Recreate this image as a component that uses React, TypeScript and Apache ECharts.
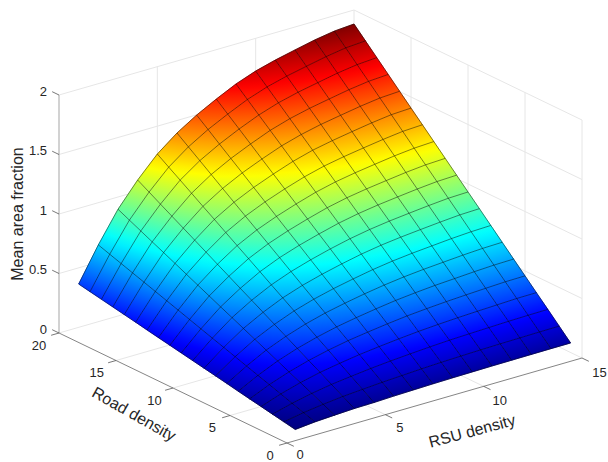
import React, { useEffect, useRef } from "react";
import * as echarts from "echarts";

const rsuTicks = [0, 5, 10, 15];
const roadTicks = [0, 5, 10, 15, 20];
const fractionTicks = [0, 0.5, 1, 1.5, 2];
const fractionTickLabels = ["0", "0.5", "1", "1.5", "2"];

// Mean area fraction, one list per RSU density (1..15), values for road density 1..20
const rsu1 = [.020,.038,.056,.074,.092,.110,.129,.147,.165,.183,.201,.219,.237,.255,.274,.292,.310,.328,.346,.364];
const rsu2 = [.036,.068,.100,.132,.164,.196,.228,.260,.292,.324,.356,.388,.421,.453,.485,.517,.549,.581,.613,.645];
const rsu3 = [.045,.090,.135,.180,.224,.269,.314,.359,.404,.449,.493,.538,.583,.628,.673,.718,.762,.807,.852,.897];
const rsu4 = [.053,.108,.163,.218,.272,.327,.382,.437,.492,.547,.601,.656,.711,.766,.821,.876,.930,.985,1.040,1.095];
const rsu5 = [.056,.120,.183,.247,.311,.374,.438,.502,.566,.629,.693,.757,.820,.884,.948,1.011,1.075,1.139,1.202,1.266];
const rsu6 = [.062,.132,.202,.272,.343,.413,.483,.553,.623,.693,.764,.834,.904,.974,1.044,1.114,1.185,1.255,1.325,1.395];
const rsu7 = [.066,.141,.217,.292,.367,.443,.518,.594,.669,.744,.820,.895,.970,1.046,1.121,1.197,1.272,1.347,1.423,1.498];
const rsu8 = [.070,.150,.229,.309,.389,.469,.549,.628,.708,.788,.867,.947,1.027,1.107,1.186,1.266,1.346,1.426,1.505,1.585];
const rsu9 = [.073,.157,.240,.324,.408,.492,.575,.659,.743,.826,.910,.994,1.078,1.161,1.245,1.329,1.413,1.496,1.580,1.664];
const rsu10 = [.075,.162,.249,.335,.422,.509,.596,.683,.770,.856,.943,1.030,1.117,1.204,1.291,1.377,1.464,1.551,1.638,1.725];
const rsu11 = [.077,.166,.255,.344,.433,.523,.612,.701,.790,.879,.968,1.057,1.146,1.235,1.324,1.414,1.503,1.592,1.681,1.770];
const rsu12 = [.078,.169,.260,.351,.442,.533,.624,.715,.806,.897,.988,1.079,1.170,1.261,1.352,1.443,1.534,1.625,1.716,1.807];
const rsu13 = [.079,.172,.265,.357,.450,.543,.636,.729,.821,.914,1.007,1.100,1.193,1.285,1.378,1.471,1.564,1.657,1.750,1.843];
const rsu14 = [.080,.174,.268,.363,.457,.551,.645,.739,.834,.928,1.022,1.116,1.210,1.305,1.399,1.493,1.587,1.681,1.776,1.870];
const rsu15 = [.080,.175,.270,.364,.459,.554,.649,.744,.839,.933,1.028,1.123,1.218,1.313,1.407,1.502,1.597,1.692,1.787,1.882];
const surfaceRows = [rsu1, rsu2, rsu3, rsu4, rsu5, rsu6, rsu7, rsu8, rsu9, rsu10, rsu11, rsu12, rsu13, rsu14, rsu15];

const FONT = "'Liberation Sans', Helvetica, Arial, sans-serif";

// orthographic view of the box (RSU 0..15, road 0..20, fraction 0..2) in chart units
function project(r: number, d: number, z: number): [number, number] {
  return [287 + (295 * r) / 15 - (228 * d) / 20, 443 - (85 * r) / 15 - (110 * d) / 20 - 119 * z];
}

function jet(t: number): string {
  const v = Math.max(0, Math.min(1, t));
  const ch = (c: number) => Math.round(255 * Math.max(0, Math.min(1, c)));
  const r = ch(Math.min(4 * v - 1.5, -4 * v + 4.5));
  const g = ch(Math.min(4 * v - 0.5, -4 * v + 3.5));
  const b = ch(Math.min(4 * v + 0.5, -4 * v + 2.5));
  return `rgb(${r},${g},${b})`;
}

const zMin = Math.min(...surfaceRows.map((row) => Math.min(...row)));
const zMax = Math.max(...surfaceRows.map((row) => Math.max(...row)));
const norm = (z: number) => (z - zMin) / (zMax - zMin);

function cellFill(pts: number[][], zs: number[]) {
  const ux = (pts[1][0] + pts[2][0] - pts[0][0] - pts[3][0]) / 2;
  const uy = (pts[1][1] + pts[2][1] - pts[0][1] - pts[3][1]) / 2;
  const vx = (pts[3][0] + pts[2][0] - pts[0][0] - pts[1][0]) / 2;
  const vy = (pts[3][1] + pts[2][1] - pts[0][1] - pts[1][1]) / 2;
  const zu = (zs[1] + zs[2] - zs[0] - zs[3]) / 2;
  const zv = (zs[3] + zs[2] - zs[0] - zs[1]) / 2;
  const det = ux * vy - uy * vx;
  const gx = (zu * vy - zv * uy) / det;
  const gy = (ux * zv - vx * zu) / det;
  const g2 = gx * gx + gy * gy;
  const cx = (pts[0][0] + pts[1][0] + pts[2][0] + pts[3][0]) / 4;
  const cy = (pts[0][1] + pts[1][1] + pts[2][1] + pts[3][1]) / 4;
  const zc = (zs[0] + zs[1] + zs[2] + zs[3]) / 4;
  const lo = Math.min(...zs);
  const hi = Math.max(...zs);
  const stops = [0, 0.2, 0.4, 0.6, 0.8, 1].map((o) => ({ offset: o, color: jet(norm(lo + (hi - lo) * o)) }));
  return new echarts.graphic.LinearGradient(
    cx + (gx / g2) * (lo - zc),
    cy + (gy / g2) * (lo - zc),
    cx + (gx / g2) * (hi - zc),
    cy + (gy / g2) * (hi - zc),
    stops,
    true
  );
}

type Seg = { a: number[]; b: number[]; color: string; width: number };
function buildSegments(): Seg[] {
  const segs: Seg[] = [];
  const grid = (a: number[], b: number[]) => segs.push({ a, b, color: "#e6e6e6", width: 1 });
  fractionTicks.forEach((z) => {
    grid([0, 20, z], [15, 20, z]);
    grid([15, 0, z], [15, 20, z]);
  });
  rsuTicks.forEach((r) => {
    if (r > 0) grid([r, 20, 0], [r, 20, 2]);
    if (r > 0 && r < 15) grid([r, 0, 0], [r, 20, 0]);
  });
  roadTicks.forEach((d) => {
    if (d < 20) grid([15, d, 0], [15, d, 2]);
    if (d > 0 && d < 20) grid([0, d, 0], [15, d, 0]);
  });
  const tick = (a: number[], b: number[]) => segs.push({ a, b, color: "#555555", width: 0.8 });
  segs.push({ a: [0, 20, 0], b: [0, 20, 2], color: "#b4b4b4", width: 1.2 });
  segs.push({ a: [0, 0, 0], b: [0, 20, 0], color: "#666666", width: 0.8 });
  segs.push({ a: [0, 0, 0], b: [15, 0, 0], color: "#666666", width: 0.8 });
  fractionTicks.forEach((z) => tick([0, 20, z], [0, 20.6, z]));
  rsuTicks.forEach((r) => tick([r, 0, 0], [r, -0.6, 0]));
  roadTicks.forEach((d) => tick([0, d, 0], [-0.4, d, 0]));
  return segs;
}
const segments = buildSegments();

function buildCells() {
  const out: number[][] = [];
  for (let i = surfaceRows.length - 2; i >= 0; i--) {
    for (let j = surfaceRows[i].length - 2; j >= 0; j--) {
      out.push([i + 1, j + 1, surfaceRows[i][j], surfaceRows[i + 1][j], surfaceRows[i + 1][j + 1], surfaceRows[i][j + 1]]);
    }
  }
  return out;
}

// one polyline per mesh line: [0, rsuIndex] runs along road density, [1, roadIndex] along RSU density
function buildMesh() {
  const out: number[][] = [];
  surfaceRows.forEach((_row, i) => out.push([0, i]));
  surfaceRows[0].forEach((_v, j) => out.push([1, j]));
  return out;
}

type Lab = { text: string; at: number[]; dx: number; dy: number; align: string; size: number; rot: number };
const labels: Lab[] = [
  ...fractionTicks.map((z, i) => ({ text: fractionTickLabels[i], at: [0, 20, z], dx: -12, dy: -4, align: "right", size: 13, rot: 0 })),
  ...rsuTicks.map((r) => ({ text: String(r), at: [r, 0, 0], dx: 13 + r * 0.3, dy: 11.5 + r * 0.22, align: "center", size: 13, rot: 0 })),
  ...roadTicks.map((d) => ({ text: String(d), at: [0, d, 0], dx: -17 - d * 0.15, dy: 12, align: "center", size: 13, rot: 0 })),
  { text: "Mean area fraction", at: [0, 20, 1], dx: -42, dy: 0, align: "center", size: 16, rot: 90 },
  { text: "Road density", at: [0, 10, 0], dx: -39, dy: 26, align: "center", size: 16, rot: -29.5 },
  { text: "RSU density", at: [7.5, 0, 0], dx: 37.5, dy: 30.5, align: "center", size: 16, rot: 15 },
];

export default function App() {
  const ref = useRef<HTMLDivElement>(null);
  useEffect(() => {
    document.body.style.margin = "0";
    const chart = echarts.init(ref.current!, undefined, { renderer: "svg" });
    chart.setOption({
      animation: false,
      backgroundColor: "#ffffff",
      grid: { left: 0, right: 0, top: 0, bottom: 0 },
      xAxis: { type: "value", min: 0, max: 608, show: false },
      yAxis: { type: "value", min: 0, max: 462, inverse: true, show: false },
      series: [
        {
          type: "custom",
          name: "Box",
          silent: true,
          z: 1,
          data: segments.map((s, i) => [...project(s.a[0], s.a[1], s.a[2]), ...project(s.b[0], s.b[1], s.b[2]), i]),
          encode: { x: 0, y: 1 },
          renderItem: (_p: any, api: any) => {
            const p = api.coord([api.value(0), api.value(1)]);
            const q = api.coord([api.value(2), api.value(3)]);
            const s = segments[api.value(4)];
            return {
              type: "line",
              shape: { x1: p[0], y1: p[1], x2: q[0], y2: q[1] },
              style: { stroke: s.color, lineWidth: s.width, fill: null },
            };
          },
        },
        {
          type: "custom",
          name: "Mean area fraction",
          silent: true,
          z: 2,
          data: buildCells(),
          encode: { x: 0, y: 1 },
          renderItem: (_p: any, api: any) => {
            const r = api.value(0);
            const d = api.value(1);
            const zs = [api.value(2), api.value(3), api.value(4), api.value(5)];
            const corners = [
              project(r, d, zs[0]),
              project(r + 1, d, zs[1]),
              project(r + 1, d + 1, zs[2]),
              project(r, d + 1, zs[3]),
            ];
            const pts = corners.map((c) => api.coord(c));
            const fill = cellFill(pts, zs);
            return {
              type: "polygon",
              shape: { points: pts },
              style: { fill, stroke: fill, lineWidth: 0.8 },
            };
          },
        },
        {
          type: "custom",
          name: "Mesh",
          silent: true,
          z: 3,
          data: buildMesh(),
          encode: { x: 0, y: 1 },
          renderItem: (_p: any, api: any) => {
            const kind = api.value(0);
            const idx = api.value(1);
            const pts =
              kind === 0
                ? surfaceRows[idx].map((z, j) => api.coord(project(idx + 1, j + 1, z)))
                : surfaceRows.map((row, i) => api.coord(project(i + 1, idx + 1, row[idx])));
            return {
              type: "polyline",
              shape: { points: pts },
              style: { fill: null, stroke: "rgba(0,0,0,0.62)", lineWidth: 0.75 },
            };
          },
        },
        {
          type: "custom",
          name: "Labels",
          silent: true,
          z: 4,
          data: labels.map((l, i) => {
            const p = project(l.at[0], l.at[1], l.at[2]);
            return [p[0] + l.dx, p[1] + l.dy, i];
          }),
          encode: { x: 0, y: 1 },
          renderItem: (_p: any, api: any) => {
            const p = api.coord([api.value(0), api.value(1)]);
            const l = labels[api.value(2)];
            return {
              type: "text",
              x: p[0],
              y: p[1],
              rotation: (l.rot * Math.PI) / 180,
              style: {
                text: l.text,
                fill: "#262626",
                fontFamily: FONT,
                fontSize: l.size,
                align: l.align,
                verticalAlign: "middle",
              },
            };
          },
        },
      ],
    });
    return () => chart.dispose();
  }, []);
  return <div ref={ref} style={{ width: 608, height: 462 }} />;
}
